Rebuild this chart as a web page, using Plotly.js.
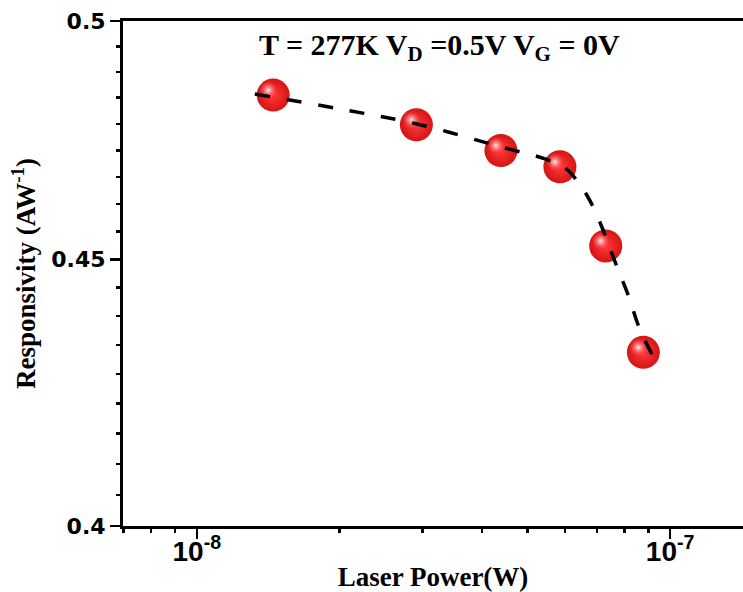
<!DOCTYPE html>
<html>
<head>
<meta charset="utf-8">
<script src="https://cdn.plot.ly/plotly-3.0.1.min.js"></script>
<style>
  html, body { margin: 0; padding: 0; background: #ffffff; }
  #chart { width: 743px; height: 592px; }
</style>
</head>
<body>
<div id="chart"></div>
<script>
// Measured responsivity vs. laser power (T = 277 K, VD = 0.5 V, VG = 0 V)
const laserPower   = [1.45e-8, 2.91e-8, 4.39e-8, 5.85e-8, 7.31e-8, 8.78e-8];   // W
const responsivity = [0.4839, 0.4776, 0.4722, 0.4688, 0.4527, 0.4319];       // A/W

// Guide-to-the-eye curve through the measurements
const fitPower = [1.326e-8, 2.006e-8, 2.918e-8, 4.393e-8, 5.441e-8, 5.998e-8, 6.390e-8,
                  6.774e-8, 7.217e-8, 7.651e-8, 8.152e-8, 8.641e-8, 9.341e-8];
const fitResp  = [0.48413, 0.48094, 0.47776, 0.47294, 0.47044, 0.46857, 0.46568,
                  0.46179, 0.45590, 0.44950, 0.44300, 0.43621, 0.43007];

// Axis ticks
const xTickVals  = [1e-8, 1e-7];
const xTickText  = ['10<sup>-8</sup>', '10<sup>-7</sup>'];
const xMinorVals = [7e-9, 8e-9, 9e-9, 2e-8, 3e-8, 4e-8, 5e-8, 6e-8, 7e-8, 8e-8, 9e-8];
const yTickVals  = [0.4, 0.45, 0.5];
const yTickText  = ['0.4', '0.45', '0.5'];

// Eight evenly spaced minor ticks between each pair of labelled values
const yMinorVals = [];
for (let i = 0; i < yTickVals.length - 1; i++) {
  const a = yTickVals[i], b = yTickVals[i + 1];
  for (let k = 1; k <= 8; k++) yMinorVals.push(a + (b - a) * k / 9);
}

const W = 743, H = 592;
const M = { l: 123, r: 0, t: 21, b: 66 };
const plotW = W - M.l - M.r, plotH = H - M.t - M.b;

const xRange = [-8.156, -6.846];
const yRange = [Math.log10(0.4), Math.log10(0.5)];

// Specular highlight sits a few pixels up and to the left of each sphere centre
const HL_DX = 5, HL_DY = 5;
const xShift = HL_DX * (xRange[1] - xRange[0]) / plotW;
const yShift = HL_DY * (yRange[1] - yRange[0]) / plotH;

const spheres = {
  x: laserPower, y: responsivity,
  type: 'scatter', mode: 'markers',
  xaxis: 'x', yaxis: 'y',
  marker: {
    size: 33, color: '#d61414',
    gradient: { type: 'radial', color: '#ff3a3a' },
    line: { width: 0 }
  },
  hoverinfo: 'x+y', showlegend: false
};

const highlights = {
  x: laserPower, y: responsivity,
  type: 'scatter', mode: 'markers',
  xaxis: 'x2', yaxis: 'y2',
  marker: {
    size: 18, color: 'rgba(255,80,80,0)',
    gradient: { type: 'radial', color: 'rgba(255,245,245,0.97)' },
    line: { width: 0 }
  },
  hoverinfo: 'skip', showlegend: false
};

const guide = {
  x: fitPower, y: fitResp,
  type: 'scatter', mode: 'lines',
  xaxis: 'x3', yaxis: 'y3',
  line: { color: '#000000', width: 3.5, dash: '15px,17px', shape: 'spline', smoothing: 1 },
  hoverinfo: 'skip', showlegend: false
};

// Carrier for the minor-tick axes
const minorCarrier = {
  x: [], y: [], type: 'scatter', mode: 'markers',
  xaxis: 'x4', yaxis: 'y4', hoverinfo: 'skip', showlegend: false
};

const tickFontY = { family: 'DejaVu Sans, Arial, sans-serif', size: 22, color: '#000', weight: 'bold' };
const tickFontX = { family: 'Liberation Sans, Arial, sans-serif', size: 28, color: '#000', weight: 'bold' };
const serifBold = 'Liberation Serif, Times New Roman, serif';

const hiddenAxis = (range, overlay) => ({
  type: 'log', range: range, overlaying: overlay, visible: false,
  showgrid: false, zeroline: false, fixedrange: true
});

const minorAxis = (range, overlay, anchor, side, vals) => ({
  type: 'log', range: range, overlaying: overlay, anchor: anchor, side: side,
  showline: false, showgrid: false, zeroline: false, showticklabels: false,
  tickmode: 'array', tickvals: vals,
  ticks: 'outside', ticklen: 6, tickwidth: 2.5, tickcolor: '#000', fixedrange: true
});

const layout = {
  width: W, height: H,
  margin: M,
  paper_bgcolor: '#ffffff', plot_bgcolor: '#ffffff',
  showlegend: false,
  xaxis: {
    type: 'log', range: xRange,
    showline: true, linecolor: '#000', linewidth: 3, mirror: true,
    showgrid: false, zeroline: false,
    tickmode: 'array', tickvals: xTickVals, ticktext: xTickText,
    ticks: 'outside', ticklen: 10, tickwidth: 2.5, tickcolor: '#000',
    ticklabelstandoff: -12,
    tickfont: tickFontX,
    title: { text: 'Laser Power(W)', font: { family: serifBold, size: 27, color: '#000', weight: 'bold' }, standoff: 8 }
  },
  yaxis: {
    type: 'log', range: yRange,
    showline: true, linecolor: '#000', linewidth: 3, mirror: false,
    showgrid: false, zeroline: false,
    tickmode: 'array', tickvals: yTickVals, ticktext: yTickText,
    ticks: 'outside', ticklen: 10, tickwidth: 2.5, tickcolor: '#000',
    tickfont: tickFontY,
    title: { text: 'Responsivity (AW<sup>-1</sup>)', font: { family: serifBold, size: 27, color: '#000', weight: 'bold' }, standoff: 8 }
  },
  xaxis2: hiddenAxis([xRange[0] + xShift, xRange[1] + xShift], 'x'),
  yaxis2: hiddenAxis([yRange[0] - yShift, yRange[1] - yShift], 'y'),
  xaxis3: hiddenAxis(xRange, 'x'),
  yaxis3: hiddenAxis(yRange, 'y'),
  xaxis4: minorAxis(xRange, 'x', 'y4', 'bottom', xMinorVals),
  yaxis4: minorAxis(yRange, 'y', 'x4', 'left', yMinorVals),
  annotations: [{
    xref: 'paper', yref: 'paper', x: 0.51, y: 0.948,
    xanchor: 'center', yanchor: 'middle', showarrow: false,
    text: 'T = 277K V<sub>D</sub> =0.5V V<sub>G</sub> = 0V',
    font: { family: serifBold, size: 30, color: '#000', weight: 'bold' }
  }]
};

Plotly.newPlot('chart', [spheres, highlights, guide, minorCarrier], layout, { displayModeBar: false, staticPlot: true });
</script>
</body>
</html>
